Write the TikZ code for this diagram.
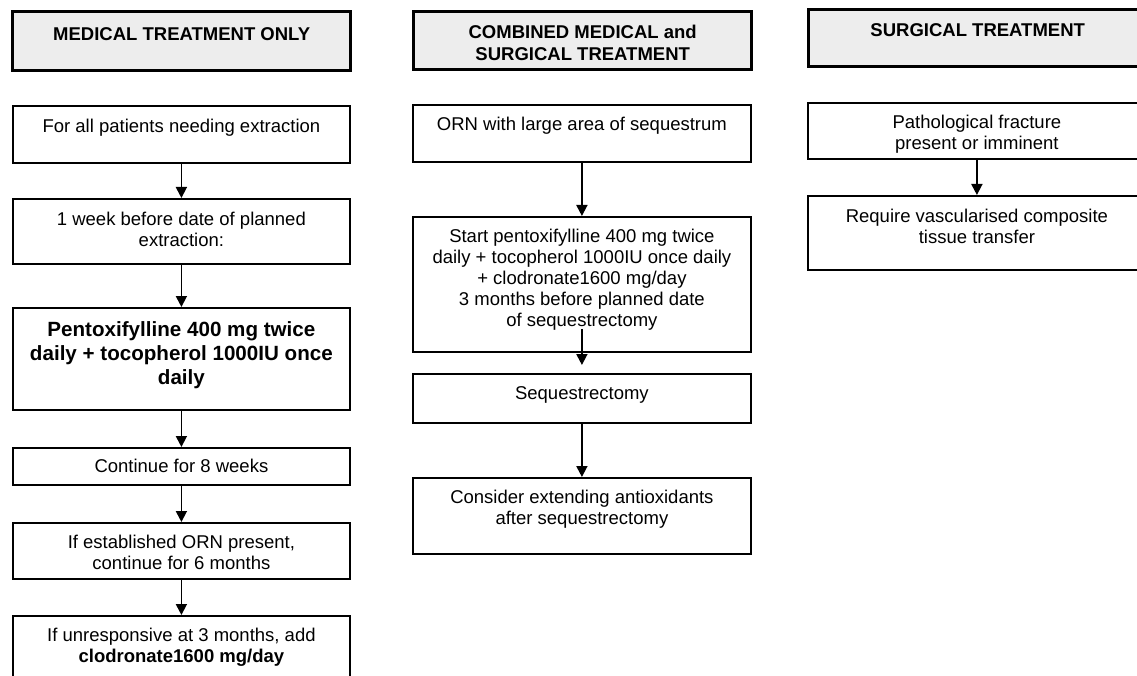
\documentclass[tikz,border=0pt]{standalone}
\usepackage{fontspec}
\setmainfont{Liberation Sans}
\usetikzlibrary{arrows.meta}
\newcommand\bx[4]{\parbox[c][#1pt][t]{#2pt}{\centering\vspace*{\dimexpr #3pt-\ht\strutbox\relax}\strut#4}}
\tikzset{
  hdr/.style={draw, line width=3.4pt, fill=black!7, inner sep=0pt, anchor=north west,
    font=\fontsize{18.5}{22}\selectfont\bfseries},
  stepbox/.style={draw, line width=1.8pt, fill=white, inner sep=0pt, anchor=north west,
    font=\fontsize{18.5}{21}\selectfont},
  boldbox/.style={stepbox, font=\fontsize{20.6}{24}\selectfont\bfseries},
  arr/.style={line width=1.8pt, -{Triangle[length=11pt,width=11pt]}}
}
\begin{document}
\begin{tikzpicture}[x=1pt, y=-1pt]
\useasboundingbox (0,0) rectangle (1137,676);
\clip (0,0) rectangle (1137,676);
\fill[white] (0,0) rectangle (1137,676);
% left column
\node[hdr] (h1) at (11,10) {\bx{59}{338}{29}{MEDICAL TREATMENT ONLY}};
\node[stepbox] (l1) at (12,105) {\bx{57}{337}{27}{For all patients needing extraction}};
\node[stepbox] (l2) at (12,198) {\bx{65}{337}{27}{1 week before date of planned\\extraction:}};
\node[boldbox] (l3) at (12,307) {\bx{102}{337}{29}{Pentoxifylline 400 mg twice\\daily + tocopherol 1000IU once\\daily}};
\node[stepbox] (l4) at (12,447) {\bx{37}{337}{25}{Continue for 8 weeks}};
\node[stepbox] (l5) at (12,522) {\bx{56}{337}{26}{If established ORN present,\\continue for 6 months}};
\node[stepbox] (l6) at (12,615) {\bx{80}{337}{26}{If unresponsive at 3 months, add\\\textbf{clodronate1600 mg/day}}};
% middle column
\node[hdr] (h2) at (412,10) {\bx{58}{338}{27}{COMBINED MEDICAL and\\SURGICAL TREATMENT}};
\node[stepbox] (m1) at (412,104) {\bx{57}{338}{26}{ORN with large area of sequestrum}};
\node[stepbox] (m2) at (412,216) {\bx{135}{338}{26}{Start pentoxifylline 400 mg twice\\daily + tocopherol 1000IU once daily\\+ clodronate1600 mg/day\\3 months before planned date\\of sequestrectomy}};
\node[stepbox] (m3) at (412,373) {\bx{49}{338}{26}{Sequestrectomy}};
\node[stepbox] (m4) at (412,477) {\bx{76}{338}{26}{Consider extending antioxidants\\after sequestrectomy}};
% right column
\node[hdr] (h3) at (807,8) {\bx{57}{338}{27}{SURGICAL TREATMENT}};
\node[stepbox] (r1) at (807,102) {\bx{56}{338}{26}{Pathological fracture\\present or imminent}};
\node[stepbox] (r2) at (807,195) {\bx{74}{338}{27}{Require vascularised composite\\tissue transfer}};
% connectors
\draw[arr] (l1.south) -- (l2.north);
\draw[arr] (l2.south) -- (l3.north);
\draw[arr] (l3.south) -- (l4.north);
\draw[arr] (l4.south) -- (l5.north);
\draw[arr] (l5.south) -- (l6.north);
\draw[arr] (m1.south) -- (m2.north);
\draw[arr] ([yshift=24pt]m2.south) -- ([yshift=8pt]m3.north);
\draw[arr] (m3.south) -- (m4.north);
\draw[arr] (r1.south) -- (r2.north);
\end{tikzpicture}
\end{document}
